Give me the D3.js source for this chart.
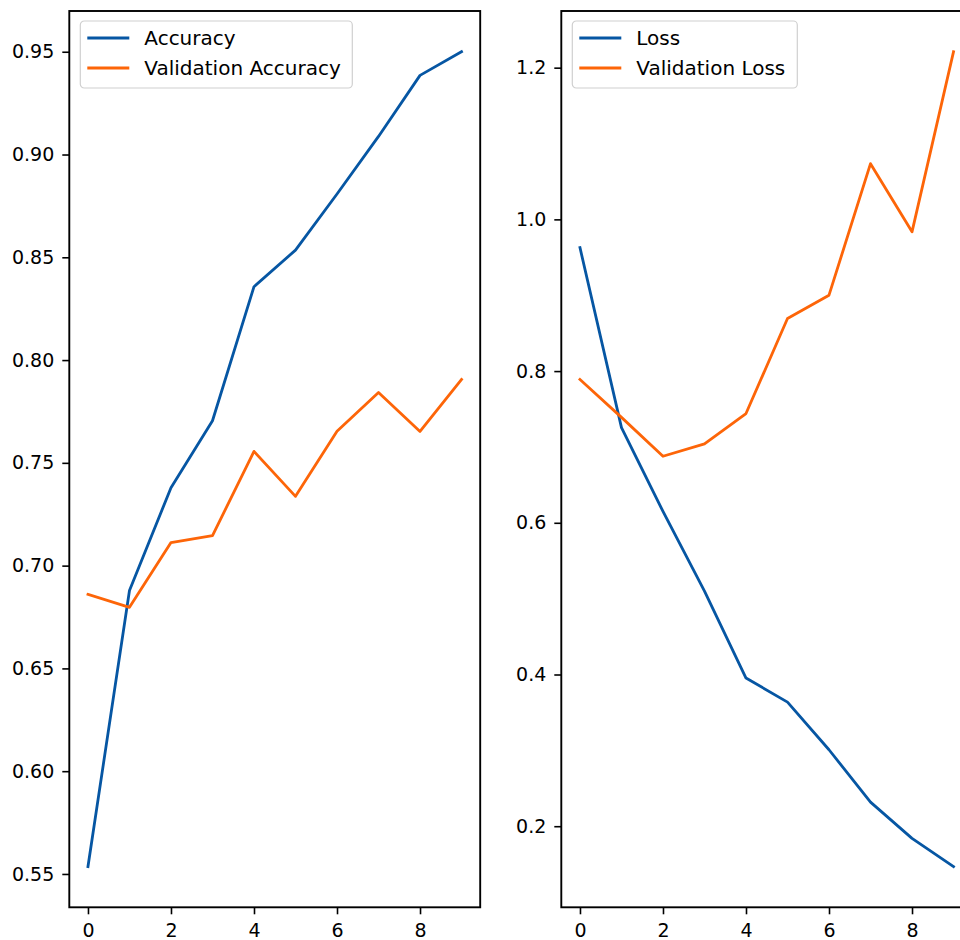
<!DOCTYPE html>
<html>
<head>
<meta charset="utf-8">
<script src="https://cdn.jsdelivr.net/npm/d3@7"></script>
<style>
  html, body { margin: 0; padding: 0; background: #fff; }
  svg { display: block; }
  text { font-family: "DejaVu Sans", sans-serif; fill: #000; }
</style>
</head>
<body>
<svg id="chart" width="960" height="940"></svg>
<script>
// Training history per epoch
const epochs = [0, 1, 2, 3, 4, 5, 6, 7, 8, 9];
const accuracy = [0.5536, 0.6879, 0.7379, 0.7705, 0.8357, 0.8535, 0.8808, 0.9088, 0.9385, 0.9500];
const valAccuracy = [0.6860, 0.6797, 0.7112, 0.7146, 0.7556, 0.7337, 0.7654, 0.7842, 0.7653, 0.7906];
const loss = [0.9627, 0.7255, 0.6150, 0.5100, 0.3953, 0.3636, 0.3008, 0.2317, 0.1840, 0.1468];
const valLoss = [0.7890, 0.7390, 0.6877, 0.7040, 0.7440, 0.8694, 0.9001, 1.0734, 0.9836, 1.2210];

const xTicks = [0, 2, 4, 6, 8];
const accTicks = [0.55, 0.60, 0.65, 0.70, 0.75, 0.80, 0.85, 0.90, 0.95];
const lossTicks = [0.2, 0.4, 0.6, 0.8, 1.0, 1.2];

const BLUE = "#0656a3";
const ORANGE = "#fd6508";

const svg = d3.select("#chart");

// Pad a data extent by 5% on each side
function padded(values) {
  const [lo, hi] = d3.extent(values);
  const m = (hi - lo) * 0.05;
  return [lo - m, hi + m];
}

function panel(opts) {
  const { left, right, top, bottom, series, yTicks, yFormat, legendWidth } = opts;
  const g = svg.append("g");

  const x = d3.scaleLinear().domain(padded(epochs)).range([left, right]);
  const allY = series.flatMap(s => s.values);
  const y = d3.scaleLinear().domain(padded(allY)).range([bottom, top]);

  // data lines
  const line = d3.line().x((d, i) => x(epochs[i])).y(d => y(d));
  series.forEach(s => {
    g.append("path")
      .datum(s.values)
      .attr("d", line)
      .attr("fill", "none")
      .attr("stroke", s.color)
      .attr("stroke-width", 2.8)
      .attr("stroke-linejoin", "round")
      .attr("stroke-linecap", "square");
  });

  // axes
  const xAxis = d3.axisBottom(x).tickValues(xTicks).tickFormat(d3.format("d"))
    .tickSizeOuter(0).tickSizeInner(7).tickPadding(9);
  const yAxis = d3.axisLeft(y).tickValues(yTicks).tickFormat(d3.format(yFormat))
    .tickSizeOuter(0).tickSizeInner(7).tickPadding(8);

  const gx = g.append("g").attr("transform", `translate(0,${bottom})`).call(xAxis);
  const gy = g.append("g").attr("transform", `translate(${left},0)`).call(yAxis);
  [gx, gy].forEach(a => {
    a.select(".domain").remove();
    a.selectAll(".tick line").attr("stroke", "#000").attr("stroke-width", 1.6);
    a.selectAll(".tick text").attr("font-size", 19).attr("font-family", "DejaVu Sans");
  });

  // frame
  g.append("rect")
    .attr("x", left).attr("y", top)
    .attr("width", right - left).attr("height", bottom - top)
    .attr("fill", "none").attr("stroke", "#000").attr("stroke-width", 1.9);

  // legend
  const lx = left + 11, ly = top + 10;
  const lg = g.append("g").attr("transform", `translate(${lx},${ly})`);
  lg.append("rect")
    .attr("width", legendWidth).attr("height", 67)
    .attr("rx", 4).attr("ry", 4)
    .attr("fill", "#fff").attr("fill-opacity", 0.8)
    .attr("stroke", "#d0d0d0").attr("stroke-width", 1.2);
  series.forEach((s, i) => {
    const cy = 17 + i * 30;
    lg.append("line")
      .attr("x1", 7).attr("x2", 49).attr("y1", cy).attr("y2", cy)
      .attr("stroke", s.color).attr("stroke-width", 2.8);
    lg.append("text")
      .attr("x", 64).attr("y", cy)
      .attr("dy", "0.36em")
      .attr("font-size", 20)
      .text(s.name);
  });
}

panel({
  left: 69.3, right: 480.2, top: 11, bottom: 907.3,
  series: [
    { name: "Accuracy", values: accuracy, color: BLUE },
    { name: "Validation Accuracy", values: valAccuracy, color: ORANGE }
  ],
  yTicks: accTicks, yFormat: ".2f", legendWidth: 272
});

panel({
  left: 561.3, right: 972.2, top: 11, bottom: 907.3,
  series: [
    { name: "Loss", values: loss, color: BLUE },
    { name: "Validation Loss", values: valLoss, color: ORANGE }
  ],
  yTicks: lossTicks, yFormat: ".1f", legendWidth: 225
});
</script>
</body>
</html>
